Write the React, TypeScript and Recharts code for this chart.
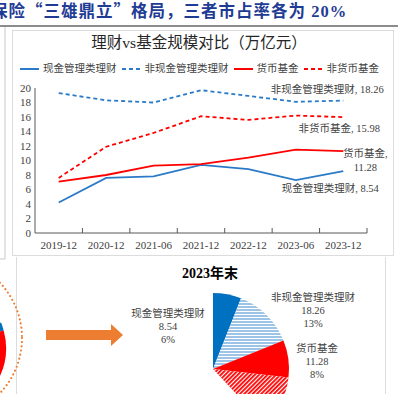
import { LineChart, Line, XAxis, YAxis, PieChart, Pie, Cell } from 'recharts'

const periods = ['2019-12', '2020-12', '2021-06', '2021-12', '2022-12', '2023-06', '2023-12']
const cashWmp = [4.2, 7.6, 7.8, 9.4, 8.8, 7.3, 8.54]
const nonCashWmp = [19.3, 18.3, 18.0, 19.7, 18.9, 18.1, 18.26]
const moneyFund = [7.1, 8.0, 9.3, 9.5, 10.4, 11.5, 11.28]
const nonMoneyFund = [7.6, 11.9, 13.8, 16.1, 15.6, 16.2, 15.98]
const yTicks = [0, 2, 4, 6, 8, 10, 12, 14, 16, 18, 20]

// 2023年末 composition (万亿元); the rest of the pie is cropped / blank
const pieNames = ['现金管理类理财', '非现金管理类理财', '货币基金', '非货币基金', '其他']
const pieValues = [8.54, 18.26, 11.28, 15.98, 88.0]
const pieShares = ['6%', '13%', '8%', '11%', '']
// left (cropped) pie: only two coloured slices are visible
const leftPieValues = [68, 7, 45, 240]

const SERIF = '"Liberation Serif", "Noto Sans CJK SC", serif'
const CJK = '"Noto Sans CJK SC", sans-serif'
const TEXT = '#404040'
const BLUE = '#2a7ac8'
const RED = '#ff0000'

const series = [
  { key: 'cash', name: '现金管理类理财', values: cashWmp, color: BLUE, dash: undefined },
  { key: 'nonCash', name: '非现金管理类理财', values: nonCashWmp, color: BLUE, dash: '4 3' },
  { key: 'money', name: '货币基金', values: moneyFund, color: RED, dash: undefined },
  { key: 'nonMoney', name: '非货币基金', values: nonMoneyFund, color: RED, dash: '4 3' },
]

const lineData = periods.map((p, i) => ({
  x: i + 0.5,
  period: p,
  cash: cashWmp[i],
  nonCash: nonCashWmp[i],
  money: moneyFund[i],
  nonMoney: nonMoneyFund[i],
}))

const pieData = pieNames.map((name, i) => ({ name, value: pieValues[i], share: pieShares[i] }))
const leftPieData = leftPieValues.map((value, i) => ({ name: 'p' + i, value }))

const CHART_W = 398
const PLOT_LEFT = 35
const PLOT_RIGHT = 31
const BAND = (CHART_W - PLOT_LEFT - PLOT_RIGHT) / periods.length

const XTick = (props: any) => {
  const { x, y, payload } = props
  const idx = Math.floor(payload.value)
  return (
    <g>
      <line x1={x + BAND / 2} x2={x + BAND / 2} y1={y} y2={y - 5} stroke="#595959" />
      <text x={x} y={y + 16} textAnchor="middle" fontSize={11} fill={TEXT} fontFamily={SERIF}>
        {periods[idx]}
      </text>
    </g>
  )
}

// end-of-line annotations (offsets relative to the last point)
const endLabels: Record<string, { lines: string[]; dx: number; dy: number }> = {
  nonCash: { lines: ['非现金管理类理财, 18.26'], dx: -16, dy: -8 },
  nonMoney: { lines: ['非货币基金, 15.98'], dx: -4, dy: 15 },
  money: { lines: ['货币基金,', '11.28'], dx: 22, dy: 6 },
  cash: { lines: ['现金管理类理财, 8.54'], dx: -13, dy: 21 },
}

const makeEndLabel = (key: string) => (props: any) => {
  const { x, y, index } = props
  if (index !== periods.length - 1) return null
  const l = endLabels[key]
  return (
    <text x={x + l.dx} y={y + l.dy} textAnchor="middle" fontSize={10.5} fill={TEXT} fontFamily={SERIF}>
      {l.lines.map((t, i) => (
        <tspan key={i} x={x + l.dx} dy={i === 0 ? 0 : 14}>
          {t}
        </tspan>
      ))}
    </text>
  )
}

const pieLabelPos: Record<string, { dx: number; dy: number }> = {
  现金管理类理财: { dx: -45, dy: -52 },
  非现金管理类理财: { dx: 100, dy: -68 },
  货币基金: { dx: 104, dy: -17 },
}

const renderPieLabel = (props: any) => {
  const { cx, cy, payload } = props
  const pos = pieLabelPos[payload.name]
  if (!pos) return null
  const x = cx + pos.dx
  const y = cy + pos.dy
  return (
    <text x={x} y={y} textAnchor="middle" fontSize={10.5} fill={TEXT} fontFamily={SERIF}>
      <tspan x={x} dy={0}>{payload.name}</tspan>
      <tspan x={x} dy={13}>{payload.value.toFixed(2)}</tspan>
      <tspan x={x} dy={13}>{payload.share}</tspan>
    </text>
  )
}

const pieFills = ['#0070c0', 'url(#hStripe)', RED, 'url(#dStripe)', 'none']
const leftFills = ['none', '#0070c0', RED, 'none']

export default function App() {
  return (
    <div style={{ position: 'absolute', left: 0, top: 0, width: 398, height: 394, overflow: 'hidden', background: '#fff' }}>
      {/* page furniture: header rule and panel frames */}
      <svg width={398} height={394} style={{ position: 'absolute', left: 0, top: 0 }}>
        <line x1={0} x2={398} y1={26} y2={26} stroke="#8c8c8c" strokeWidth={2} />
        <line x1={5} x2={5} y1={27} y2={259} stroke="#c8c8c8" />
        <line x1={0} x2={5} y1={259} y2={259} stroke="#c8c8c8" />
        <rect x={12.5} y={30.5} width={381} height={225} fill="none" stroke="#dcdcdc" />
        <line x1={16.5} x2={16.5} y1={257} y2={394} stroke="#dcdcdc" />
        <line x1={385.5} x2={385.5} y1={257} y2={394} stroke="#dcdcdc" />
        <circle cx={-58} cy={338} r={80} fill="none" stroke="#ed7d31" strokeWidth={2.2} strokeDasharray="0 4.2" strokeLinecap="round" />
        <polygon points="46,330 111,330 111,324 123,335 111,346 111,340 46,340" fill="#ed7d31" />
      </svg>

      <div
        style={{
          position: 'absolute', left: -9, top: 0, whiteSpace: 'nowrap', fontSize: 16.5, fontWeight: 'bold',
          color: '#1f3c94', fontFamily: SERIF, lineHeight: '20px', letterSpacing: 1,
        }}
      >
        保险<span style={{ fontFamily: CJK }}>“</span>三雄鼎立<span style={{ fontFamily: CJK }}>”</span>格局，三者市占率各为 20%
      </div>

      <div
        style={{
          position: 'absolute', left: 0, width: 398, top: 33, textAlign: 'center', fontSize: 15.5,
          color: '#262626', fontFamily: SERIF, lineHeight: '20px',
        }}
      >
        理财vs基金规模对比（万亿元）
      </div>

      <div style={{ position: 'absolute', left: 20, top: 61, display: 'flex', gap: 5, fontFamily: SERIF, fontSize: 10.5, color: TEXT, whiteSpace: 'nowrap' }}>
        {series.map((s) => (
          <div key={s.key} style={{ display: 'flex', alignItems: 'center', gap: 4, lineHeight: '16px' }}>
            <svg width={19} height={6}>
              <line x1={0} x2={19} y1={3} y2={3} stroke={s.color} strokeWidth={2} strokeDasharray={s.dash} />
            </svg>
            <span>{s.name}</span>
          </div>
        ))}
      </div>

      <div style={{ position: 'absolute', left: 0, top: 0 }}>
        <LineChart width={CHART_W} height={260} data={lineData} margin={{ top: 88, right: PLOT_RIGHT, bottom: 7, left: 0 }}>
          <XAxis
            type="number"
            dataKey="x"
            domain={[0, periods.length]}
            ticks={periods.map((_, i) => i + 0.5)}
            tick={<XTick />}
            tickLine={false}
            tickSize={0}
            tickMargin={0}
            height={20}
            stroke="#595959"
            interval={0}
          />
          <YAxis
            domain={[0, 20]}
            ticks={yTicks}
            interval={0}
            width={PLOT_LEFT}
            tickLine={false}
            tickSize={0}
            tickMargin={4}
            stroke="#595959"
            tick={{ fontSize: 11, fill: TEXT, fontFamily: SERIF }}
          />
          {series.map((s) => (
            <Line
              key={s.key}
              dataKey={s.key}
              name={s.name}
              stroke={s.color}
              strokeWidth={1.8}
              strokeDasharray={s.dash}
              dot={false}
              isAnimationActive={false}
              label={makeEndLabel(s.key)}
            />
          ))}
        </LineChart>
      </div>

      <div
        style={{
          position: 'absolute', left: 160, width: 100, top: 264, textAlign: 'center', fontSize: 14,
          fontWeight: 'bold', color: '#000', fontFamily: SERIF, lineHeight: '20px',
        }}
      >
        2023年末
      </div>

      <div style={{ position: 'absolute', left: 0, top: 255 }}>
        <PieChart width={398} height={139} margin={{ top: 0, right: 0, bottom: 0, left: 0 }}>
          <defs>
            <pattern id="hStripe" width={4} height={3} patternUnits="userSpaceOnUse">
              <rect width={4} height={3} fill="#ffffff" />
              <rect width={4} height={2} fill="#9dc3e6" />
            </pattern>
            <pattern id="dStripe" width={3} height={3} patternUnits="userSpaceOnUse" patternTransform="rotate(45)">
              <rect width={3} height={3} fill="#ffffff" />
              <rect width={1.8} height={3} fill={RED} />
            </pattern>
          </defs>
          <Pie
            data={pieData}
            dataKey="value"
            cx={213}
            cy={114}
            outerRadius={76}
            startAngle={90}
            endAngle={-270}
            stroke="none"
            label={renderPieLabel}
            labelLine={false}
            isAnimationActive={false}
          >
            {pieData.map((d, i) => (
              <Cell key={d.name} fill={pieFills[i]} />
            ))}
          </Pie>
          <Pie
            data={leftPieData}
            dataKey="value"
            cx={-62}
            cy={93}
            outerRadius={68}
            startAngle={90}
            endAngle={-270}
            stroke="none"
            isAnimationActive={false}
          >
            {leftPieData.map((d, i) => (
              <Cell key={d.name} fill={leftFills[i]} />
            ))}
          </Pie>
        </PieChart>
      </div>
    </div>
  )
}
